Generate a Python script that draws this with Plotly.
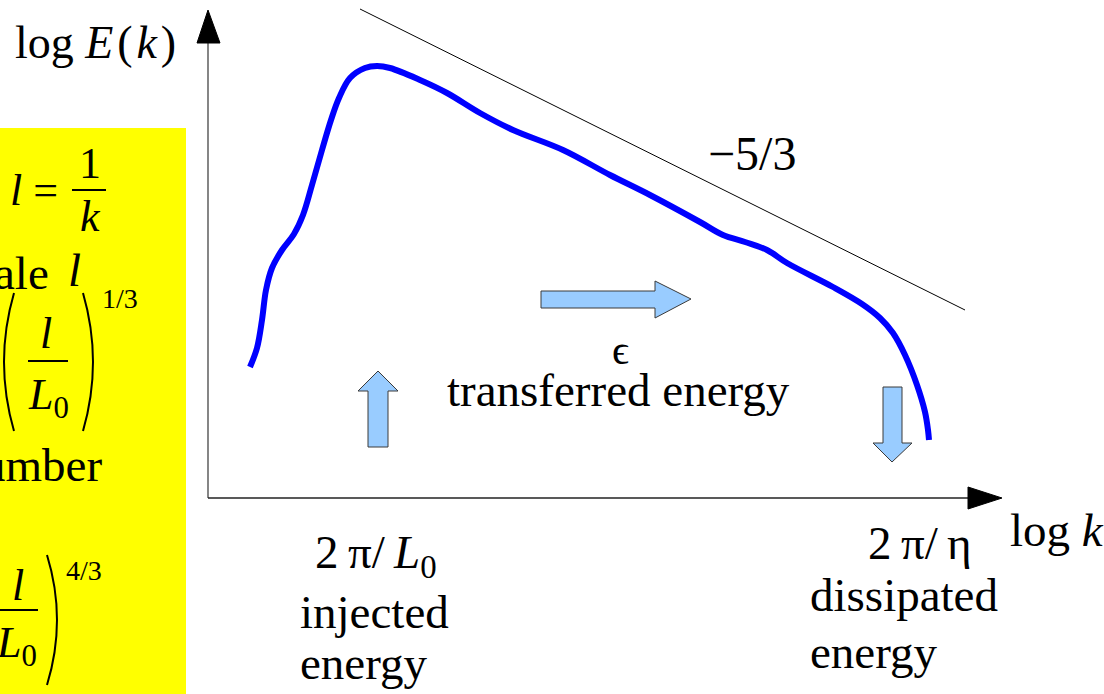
import plotly.graph_objects as go

W, H = 1104, 694

# Energy spectrum sketch, in canvas units (x to the right, y downward)
CURVE_X = [250, 257, 262, 266, 272, 282, 294, 303, 312, 322, 331, 339, 350, 365,
           377, 390, 420, 447, 480, 513, 563, 610, 650, 700, 723, 745, 767, 787,
           833, 862, 880, 893, 905, 917, 925, 928, 929]
CURVE_Y = [367, 348, 320, 290, 268, 250, 234, 215, 185, 150, 120, 98, 78, 68,
           66, 68, 80, 93, 113, 130, 150, 175, 195, 222, 235, 242, 250, 263,
           287, 304, 318, 333, 355, 385, 412, 430, 440]

# Kolmogorov -5/3 guide line (end points)
SLOPE_X = [360, 965]
SLOPE_Y = [9, 310]

SERIF = "Liberation Serif, Times New Roman, serif"
ARROW_FILL = "#99ccff"
ARROW_EDGE = "#3a3a3a"
FS = 47

fig = go.Figure()

# yellow side panel
fig.add_shape(type="rect", x0=0, x1=186, y0=128, y1=700,
              fillcolor="#ffff00", line=dict(width=0), layer="below")

# axes with arrow heads
fig.add_shape(type="line", x0=208, y0=498, x1=208, y1=40,
              line=dict(color="#444444", width=1.3))
fig.add_shape(type="path", path="M 197 43 L 208 10 L 220 43 Z",
              fillcolor="black", line=dict(color="black", width=1))
fig.add_shape(type="line", x0=208, y0=498, x1=970, y1=498,
              line=dict(color="#222222", width=1.3))
fig.add_shape(type="path", path="M 968 487 L 1002 498 L 968 509 Z",
              fillcolor="black", line=dict(color="black", width=1))

# -5/3 guide
fig.add_trace(go.Scatter(x=SLOPE_X, y=SLOPE_Y, mode="lines",
                         line=dict(color="black", width=1), hoverinfo="skip"))

# spectrum
fig.add_trace(go.Scatter(x=CURVE_X, y=CURVE_Y, mode="lines",
                         line=dict(color="#0000ff", width=6, shape="spline", smoothing=1.0),
                         hoverinfo="skip"))

# block arrows
arrows = [
    "M 541 291 L 655 291 L 655 281 L 691 299 L 655 318 L 655 308 L 541 308 Z",
    "M 368 447 L 368 391 L 358 391 L 378 371 L 398 391 L 388 391 L 388 447 Z",
    "M 883 387 L 902 387 L 902 443 L 912 443 L 892 462 L 873 443 L 883 443 Z",
]
for p in arrows:
    fig.add_shape(type="path", path=p, fillcolor=ARROW_FILL,
                  line=dict(color=ARROW_EDGE, width=1))

# thin brackets and fraction bars in the side panel
brackets = [
    "M 14 293 Q -6 362 14 431",
    "M 83 293 Q 103 362 83 431",
    "M 47 555 Q 67 620 47 685",
]
for p in brackets:
    fig.add_shape(type="path", path=p, line=dict(color="black", width=2))
for x0, x1, y in [(72, 106, 190), (28, 68, 361), (0, 38, 610)]:
    fig.add_shape(type="line", x0=x0, x1=x1, y0=y, y1=y,
                  line=dict(color="black", width=2))


def label(x, y, text, size=FS, xanchor="center", xshift=0):
    fig.add_annotation(x=x, y=y, text=text, showarrow=False, xanchor=xanchor,
                       yanchor="middle", xshift=xshift,
                       font=dict(family=SERIF, size=size, color="black"))


THIN = "\u2009"
HAIR = "\u200a"
label(13, 42, f"log <i>E</i>{HAIR}({HAIR}<i>k</i>{HAIR})", size=46, xanchor="left")
label(752, 153, "−5/3", size=48)
label(620, 350, "ϵ", size=42)
label(618, 390, "transferred energy")
label(376, 555, f"2{THIN}π/{THIN}<i>L</i><sub>0</sub>")
label(298, 612, "injected", xanchor="left")
label(298, 663, "energy", xanchor="left")
label(920, 543, f"2{THIN}π/{THIN}η")
label(1008, 530, "log <i>k</i>", xanchor="left")
label(808, 595, "dissipated", xanchor="left")
label(808, 652, "energy", xanchor="left")

# side panel text (partly cut by the page edge)
label(8, 190, "<i>l</i> =", size=44, xanchor="left")
label(90, 163, "1", size=44)
label(90, 216, "<i>k</i>", size=44)
label(0, 273, "ale", size=FS, xanchor="left", xshift=-8)
label(74, 270, "<i>l</i>", size=FS)
label(46, 333, "<i>l</i>", size=44)
label(48, 397, "<i>L</i><sub>0</sub>", size=44)
label(120, 298, "1/3", size=28)
label(0, 465, "umber", size=FS, xanchor="left", xshift=-20)
label(18, 585, "<i>l</i>", size=44)
label(16, 645, "<i>L</i><sub>0</sub>", size=44)
label(84, 570, "4/3", size=28)

fig.update_layout(
    width=W, height=H, margin=dict(l=0, r=0, t=0, b=0),
    paper_bgcolor="white", plot_bgcolor="white", showlegend=False,
    xaxis=dict(range=[0, W], visible=False, fixedrange=True),
    yaxis=dict(range=[H, 0], visible=False, fixedrange=True),
)

fig.write_html("out.html")
